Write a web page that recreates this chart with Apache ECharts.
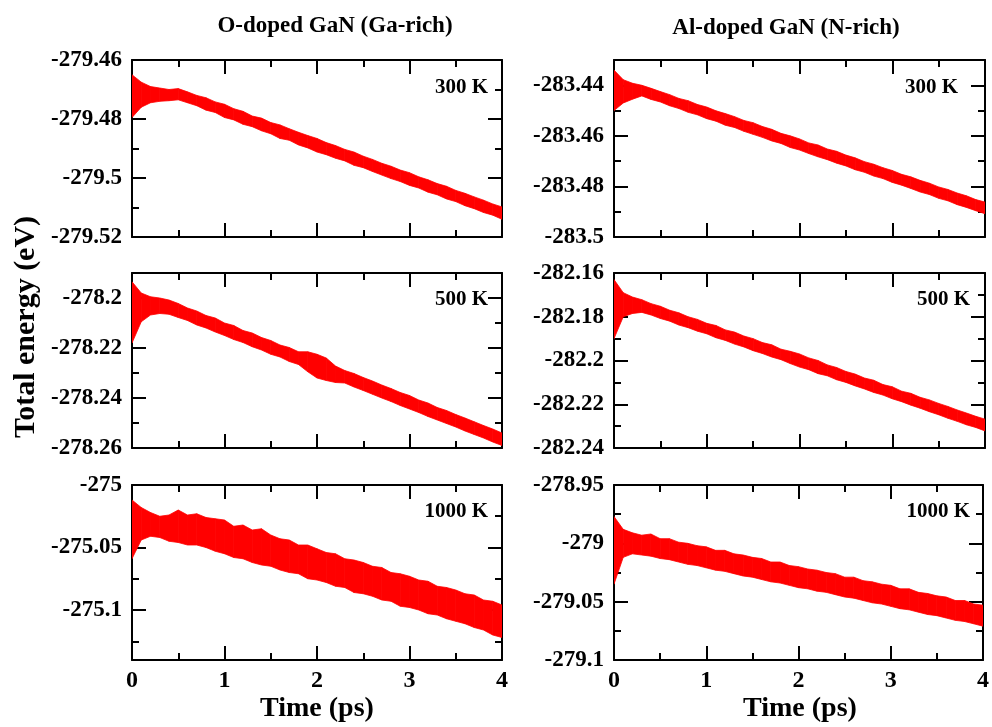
<!DOCTYPE html>
<html><head><meta charset="utf-8">
<script src="https://cdn.jsdelivr.net/npm/echarts@6/dist/echarts.min.js"></script>
<style>html,body{margin:0;padding:0;background:#fff}#c{width:992px;height:727px}</style>
</head><body><div id="c"></div><script>
// ---- data ----
const TIME = [0,0.1,0.2,0.3,0.4,0.5,0.6,0.7,0.8,0.9,1,1.1,1.2,1.3,1.4,1.5,1.6,1.7,1.8,1.9,2,2.1,2.2,2.3,2.4,2.5,2.6,2.7,2.8,2.9,3,3.1,3.2,3.3,3.4,3.5,3.6,3.7,3.8,3.9,4];
const X_TICKS = [0,1,2,3,4];
const COLUMN_TITLES = ['O-doped GaN (Ga-rich)', 'Al-doped GaN (N-rich)'];
const TEMPERATURES = ['300 K', '500 K', '1000 K'];
const Y_NAME = 'Total energy (eV)';
const X_NAME = 'Time (ps)';
// y ranges per panel (row-major: TL, TR, ML, MR, BL, BR)
const Y_MIN = [-279.52, -283.5, -278.26, -282.24, -275.14, -279.1];
const Y_MAX = [-279.46, -283.43, -278.19, -282.16, -275, -278.95];
const Y_STEP = [0.02, 0.02, 0.02, 0.02, 0.05, 0.05];

// upper / lower edge of the noisy energy trace
const O300_UP = [-279.4650,-279.4675,-279.4690,-279.4695,-279.4700,-279.4697,-279.4708,-279.4720,-279.4728,-279.4742,-279.4750,-279.4765,-279.4774,-279.4790,-279.4797,-279.4812,-279.4820,-279.4833,-279.4845,-279.4856,-279.4866,-279.4880,-279.4890,-279.4903,-279.4912,-279.4926,-279.4937,-279.4950,-279.4960,-279.4973,-279.4982,-279.4996,-279.5006,-279.5019,-279.5028,-279.5042,-279.5052,-279.5064,-279.5075,-279.5088,-279.5098];
const O300_LO = [-279.4795,-279.4760,-279.4745,-279.4740,-279.4738,-279.4735,-279.4745,-279.4755,-279.4770,-279.4778,-279.4795,-279.4803,-279.4818,-279.4826,-279.4840,-279.4850,-279.4866,-279.4872,-279.4888,-279.4898,-279.4912,-279.4921,-279.4933,-279.4942,-279.4957,-279.4965,-279.4978,-279.4990,-279.5002,-279.5012,-279.5025,-279.5034,-279.5048,-279.5057,-279.5071,-279.5080,-279.5094,-279.5104,-279.5117,-279.5126,-279.5140];
const AL300_UP = [-283.4340,-283.4378,-283.4392,-283.4400,-283.4412,-283.4425,-283.4437,-283.4452,-283.4461,-283.4476,-283.4486,-283.4501,-283.4512,-283.4524,-283.4539,-283.4548,-283.4563,-283.4574,-283.4590,-283.4600,-283.4612,-283.4628,-283.4636,-283.4652,-283.4661,-283.4676,-283.4687,-283.4702,-283.4712,-283.4726,-283.4737,-283.4752,-283.4762,-283.4776,-283.4787,-283.4802,-283.4812,-283.4826,-283.4837,-283.4852,-283.4862];
const AL300_LO = [-283.4500,-283.4470,-283.4455,-283.4442,-283.4456,-283.4466,-283.4481,-283.4492,-283.4507,-283.4517,-283.4532,-283.4542,-283.4558,-283.4567,-283.4582,-283.4594,-283.4606,-283.4620,-283.4630,-283.4646,-283.4656,-283.4670,-283.4683,-283.4694,-283.4708,-283.4719,-283.4734,-283.4744,-283.4759,-283.4769,-283.4784,-283.4795,-283.4808,-283.4822,-283.4832,-283.4847,-283.4857,-283.4872,-283.4883,-283.4896,-283.4908];
const O500_UP = [-278.1935,-278.1980,-278.1995,-278.2000,-278.2008,-278.2022,-278.2040,-278.2052,-278.2070,-278.2080,-278.2100,-278.2110,-278.2130,-278.2140,-278.2158,-278.2170,-278.2188,-278.2198,-278.2215,-278.2215,-278.2225,-278.2240,-278.2272,-278.2290,-278.2302,-278.2318,-278.2332,-278.2348,-278.2362,-278.2378,-278.2390,-278.2408,-278.2420,-278.2438,-278.2450,-278.2466,-278.2480,-278.2495,-278.2510,-278.2524,-278.2540];
const O500_LO = [-278.2180,-278.2095,-278.2068,-278.2062,-278.2065,-278.2078,-278.2090,-278.2108,-278.2120,-278.2136,-278.2150,-278.2166,-278.2178,-278.2195,-278.2208,-278.2225,-278.2236,-278.2254,-278.2266,-278.2295,-278.2320,-278.2330,-278.2338,-278.2340,-278.2356,-278.2370,-278.2385,-278.2400,-278.2414,-278.2430,-278.2444,-278.2458,-278.2474,-278.2488,-278.2502,-278.2516,-278.2532,-278.2546,-278.2560,-278.2576,-278.2590];
const AL500_UP = [-282.1630,-282.1690,-282.1710,-282.1722,-282.1740,-282.1752,-282.1770,-282.1782,-282.1800,-282.1812,-282.1830,-282.1840,-282.1860,-282.1870,-282.1888,-282.1900,-282.1918,-282.1928,-282.1948,-282.1958,-282.1970,-282.1988,-282.2000,-282.2020,-282.2032,-282.2050,-282.2062,-282.2080,-282.2090,-282.2110,-282.2120,-282.2140,-282.2150,-282.2168,-282.2180,-282.2196,-282.2210,-282.2226,-282.2240,-282.2255,-282.2268];
const AL500_LO = [-282.1900,-282.1800,-282.1785,-282.1780,-282.1792,-282.1808,-282.1820,-282.1838,-282.1850,-282.1866,-282.1878,-282.1896,-282.1908,-282.1925,-282.1938,-282.1955,-282.1968,-282.1984,-282.1996,-282.2014,-282.2030,-282.2042,-282.2060,-282.2070,-282.2088,-282.2100,-282.2116,-282.2130,-282.2146,-282.2158,-282.2175,-282.2188,-282.2204,-282.2218,-282.2234,-282.2248,-282.2264,-282.2278,-282.2294,-282.2306,-282.2322];
const O1000_UP = [-275.012,-275.018,-275.022,-275.025,-275.024,-275.020,-275.024,-275.023,-275.026,-275.027,-275.028,-275.033,-275.032,-275.036,-275.035,-275.040,-275.043,-275.044,-275.048,-275.048,-275.051,-275.054,-275.055,-275.059,-275.060,-275.062,-275.065,-275.066,-275.070,-275.071,-275.073,-275.076,-275.077,-275.081,-275.082,-275.084,-275.087,-275.088,-275.092,-275.093,-275.096];
const O1000_LO = [-275.059,-275.044,-275.041,-275.042,-275.045,-275.046,-275.048,-275.048,-275.050,-275.053,-275.055,-275.058,-275.059,-275.062,-275.064,-275.065,-275.068,-275.070,-275.071,-275.075,-275.076,-275.078,-275.081,-275.082,-275.086,-275.087,-275.089,-275.092,-275.093,-275.097,-275.098,-275.100,-275.103,-275.104,-275.107,-275.109,-275.111,-275.114,-275.116,-275.120,-275.122];
const AL1000_UP = [-278.977,-278.988,-278.991,-278.993,-278.992,-278.996,-278.996,-278.999,-279.000,-279.002,-279.003,-279.006,-279.006,-279.009,-279.010,-279.012,-279.013,-279.016,-279.016,-279.019,-279.020,-279.022,-279.023,-279.025,-279.026,-279.029,-279.029,-279.032,-279.033,-279.035,-279.036,-279.039,-279.039,-279.042,-279.043,-279.045,-279.046,-279.049,-279.049,-279.052,-279.053];
const AL1000_LO = [-279.035,-279.012,-279.009,-279.010,-279.011,-279.013,-279.014,-279.016,-279.018,-279.019,-279.021,-279.023,-279.024,-279.026,-279.028,-279.029,-279.031,-279.033,-279.034,-279.036,-279.038,-279.039,-279.041,-279.042,-279.044,-279.046,-279.047,-279.049,-279.051,-279.052,-279.054,-279.056,-279.057,-279.059,-279.061,-279.062,-279.064,-279.066,-279.067,-279.069,-279.071];

const PANEL_UP = [O300_UP, AL300_UP, O500_UP, AL500_UP, O1000_UP, AL1000_UP];
const PANEL_LO = [O300_LO, AL300_LO, O500_LO, AL500_LO, O1000_LO, AL1000_LO];

// ---- layout ----
const FONT = '"Liberation Serif", "Times New Roman", serif';
const COL_LEFT = [132, 614], COL_W = [370, 371];
const ROW_TOP = [60, 273, 485], ROW_H = [177, 175, 175];
const TEMP_RIGHT = [[488, 958], [488, 970], [488, 970]], TEMP_Y = [88, 300, 512];

const grids = [], xAxes = [], yAxes = [], series = [];
const axisLineStyle = {color: '#000', width: 2};
const isMultiple = (v, s) => Math.abs(Math.round(v / s) - v / s) < 1e-6;
for (let p = 0; p < 6; p++) {
  const row = Math.floor(p / 2), col = p % 2;
  grids.push({left: COL_LEFT[col], top: ROW_TOP[row], width: COL_W[col], height: ROW_H[row], containLabel: false});
  const isBottom = row === 2;
  const xBase = {
    type: 'value', gridIndex: p, min: 0, max: 4, interval: 1,
    axisLine: {show: true, onZero: false, lineStyle: axisLineStyle},
    axisTick: {show: true, inside: true, length: 14, lineStyle: axisLineStyle},
    minorTick: {show: true, splitNumber: 2, length: 7, lineStyle: axisLineStyle},
    splitLine: {show: false}, minorSplitLine: {show: false}
  };
  xAxes.push(Object.assign({}, xBase, {
    position: 'bottom',
    axisLabel: {show: isBottom, margin: 9, color: '#000', fontFamily: FONT, fontWeight: 'bold', fontSize: 24,
      customValues: X_TICKS}
  }));
  xAxes.push(Object.assign({}, xBase, {position: 'top', axisLabel: {show: false}}));
  const yBase = {
    type: 'value', gridIndex: p, min: Y_MIN[p], max: Y_MAX[p],
    axisLine: {show: true, onZero: false, lineStyle: axisLineStyle},
    axisTick: {show: true, inside: true, length: 14, lineStyle: axisLineStyle},
    minorTick: {show: true, splitNumber: 2, length: 7, lineStyle: axisLineStyle},
    splitLine: {show: false}, minorSplitLine: {show: false}
  };
  const useInterval = isMultiple(Y_MIN[p], Y_STEP[p]);
  if (useInterval) yBase.interval = Y_STEP[p];
  else { yBase.minInterval = Y_STEP[p]; yBase.maxInterval = Y_STEP[p]; yBase.splitNumber = 3; }
  yAxes.push(Object.assign({}, yBase, {
    position: 'left',
    axisLabel: {show: true, margin: 10, color: '#000', fontFamily: FONT, fontWeight: 'bold', fontSize: 23,
      showMinLabel: useInterval, showMaxLabel: isMultiple(Y_MAX[p], Y_STEP[p])}
  }));
  yAxes.push(Object.assign({}, yBase, {position: 'right', axisLabel: {show: false}}));

  const up = PANEL_UP[p], lo = PANEL_LO[p];
  series.push({
    type: 'custom', xAxisIndex: 2 * p, yAxisIndex: 2 * p, clip: true, silent: true,
    data: TIME.map((t, i) => [t, lo[i], up[i]]),
    encode: {x: 0, y: [1, 2]},
    renderItem: function (params, api) {
      const i = params.dataIndex;
      if (i >= TIME.length - 1) return null;
      const pts = [
        api.coord([TIME[i], up[i]]), api.coord([TIME[i + 1], up[i + 1]]),
        api.coord([TIME[i + 1], lo[i + 1]]), api.coord([TIME[i], lo[i]])
      ];
      return {type: 'polygon', shape: {points: pts}, style: {fill: '#ff0000', stroke: '#ff0000', lineWidth: 0.8}};
    }
  });
}

const graphic = [];
const textEl = (text, x, y, size, align, rot) => ({
  type: 'text', x: x, y: y, rotation: rot || 0, silent: true,
  style: {text: text, fill: '#000', font: 'bold ' + size + 'px ' + FONT, textAlign: align || 'center', textVerticalAlign: 'middle'}
});
graphic.push(textEl(COLUMN_TITLES[0], 335, 26, 23));
graphic.push(textEl(COLUMN_TITLES[1], 786, 28, 23));
graphic.push(textEl(Y_NAME, 26, 327, 30, 'center', Math.PI / 2));
graphic.push(textEl(X_NAME, 317, 709, 28));
graphic.push(textEl(X_NAME, 800, 709, 28));
for (let r = 0; r < 3; r++) for (let c = 0; c < 2; c++) {
  graphic.push(textEl(TEMPERATURES[r], TEMP_RIGHT[r][c], TEMP_Y[r], 21, 'right'));
}

const chart = echarts.init(document.getElementById('c'), null, {renderer: 'canvas'});
chart.setOption({
  animation: false, backgroundColor: '#fff',
  grid: grids, xAxis: xAxes, yAxis: yAxes, series: series, graphic: graphic
});
</script></body></html>
